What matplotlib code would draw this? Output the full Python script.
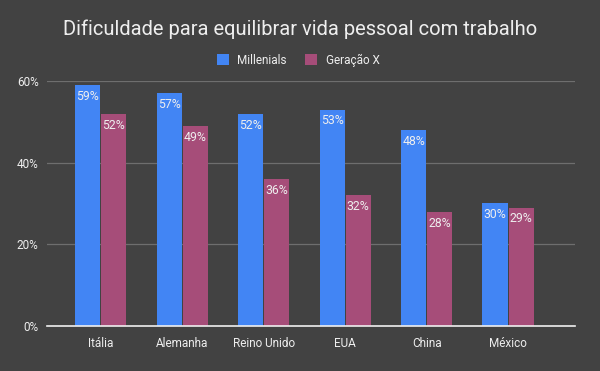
import matplotlib.pyplot as plt
import numpy as np

paises = ['Itália', 'Alemanha', 'Reino Unido', 'EUA', 'China', 'México']
millenials = [59, 57, 52, 53, 48, 30]
geracao_x = [52, 49, 36, 32, 28, 29]
yticks = [0, 20, 40, 60]

bg = '#424242'
azul = '#4285f4'
rosa = '#a64d79'
txt = '#eeeeee'

plt.rcParams['font.family'] = ['Roboto', 'DejaVu Sans']

fig = plt.figure(figsize=(6, 3.71), dpi=100, facecolor=bg)
ax = fig.add_axes([0.0783, 0.1213, 0.88, 0.6604], facecolor=bg)

x = np.arange(len(paises))
w = 0.31
b1 = ax.bar(x - w / 2 - 0.005, millenials, w, color=azul, label='Millenials', zorder=3)
b2 = ax.bar(x + w / 2 + 0.005, geracao_x, w, color=rosa, label='Geração X', zorder=3)

for bars, vals in [(b1, millenials), (b2, geracao_x)]:
    for r, v in zip(bars, vals):
        ax.text(r.get_x() + r.get_width() / 2, v - 1.2, f'{v}%', ha='center', va='top',
                color=txt, fontsize=8.8, zorder=4)

ax.set_xlim(-0.66, 5.82)
ax.set_ylim(0, 60)
ax.set_yticks(yticks)
ax.set_yticklabels([f'{t}%' for t in yticks])
ax.set_xticks(x)
ax.set_xticklabels(paises)
ax.tick_params(colors=txt, labelsize=8.5, length=0)
ax.tick_params(axis='x', pad=8)
ax.tick_params(axis='y', pad=6)
ax.grid(axis='y', color='#6e6e6e', linewidth=0.9, zorder=0)
for s in ['top', 'right', 'left']:
    ax.spines[s].set_visible(False)
ax.spines['bottom'].set_color('#f0f0f0')
ax.spines['bottom'].set_linewidth(1.2)
ax.spines['bottom'].set_zorder(5)

fig.text(0.5, 0.92, 'Dificuldade para equilibrar vida pessoal com trabalho',
         ha='center', va='center', color=txt, fontsize=14.5)
fig.legend(loc='center', bbox_to_anchor=(0.497, 0.838), ncol=2, frameon=False,
           labelcolor=txt, fontsize=8.5, handlelength=1.0, handleheight=1.0,
           columnspacing=1.6, handletextpad=0.7)

fig.savefig('out.png', dpi=100, facecolor=bg)
